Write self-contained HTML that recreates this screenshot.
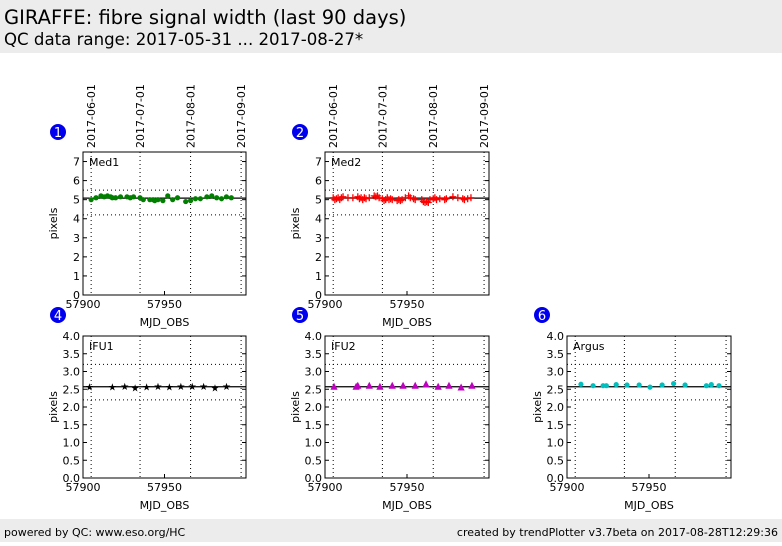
<!DOCTYPE html>
<html><head><meta charset="utf-8"><style>
body{margin:0;background:#fff;width:782px;height:542px;overflow:hidden;font-family:"DejaVu Sans","Liberation Sans",sans-serif}
svg text{font-family:"DejaVu Sans","Liberation Sans",sans-serif}
</style></head><body>
<svg id="chart" width="782" height="542" xmlns="http://www.w3.org/2000/svg">
<rect x="0" y="0" width="782" height="53" fill="#ececec"/>
<text x="4" y="24" font-size="19.5" fill="#000">GIRAFFE: fibre signal width (last 90 days)</text>
<text x="4" y="45" font-size="16.6" fill="#000">QC data range: 2017-05-31 ... 2017-08-27*</text>
<rect x="0" y="519" width="782" height="23" fill="#ececec"/>
<text x="4" y="536" font-size="11">powered by QC: www.eso.org/HC</text>
<text x="778" y="536" font-size="11" text-anchor="end">created by trendPlotter v3.7beta on 2017-08-28T12:29:36</text>
<g id="plots"></g>
</svg>
<script>
const med1X=[57905,57908,57911,57913,57915,57917,57918,57920,57923,57927,57929,57931,57935,57937,57941,57943,57944,57946,57949,57952,57955,57958,57963,57966,57969,57972,57976,57979,57982,57985,57988,57991];
const med1Y=[5.0,5.1,5.2,5.15,5.2,5.15,5.1,5.1,5.15,5.15,5.1,5.15,5.1,5.0,5.0,5.0,4.95,5.0,4.95,5.2,5.0,5.1,4.9,4.95,5.05,5.05,5.15,5.2,5.1,5.05,5.15,5.1];
const med2X=[57905,57906,57907,57908,57909,57910,57911,57914,57917,57920,57921,57922,57923,57924,57925,57927,57930,57931,57932,57933,57935,57936,57937,57938,57939,57940,57941,57944,57945,57946,57947,57949,57951,57952,57954,57955,57959,57960,57961,57962,57963,57964,57966,57967,57968,57970,57973,57974,57978,57981,57984,57985,57987,57989];
const med2Y=[5.1,5.0,5.05,5.1,5.0,5.1,5.15,5.1,5.1,5.15,5.05,5.1,5.0,5.1,5.05,5.1,5.2,5.15,5.2,5.1,5.05,4.95,5.0,5.1,5.0,5.05,5.0,4.95,5.0,4.95,5.0,5.1,5.2,5.1,5.05,5.0,5.0,4.9,4.85,4.9,4.85,5.0,5.05,5.1,5.0,5.05,5.0,5.05,5.15,5.1,5.05,5.0,5.05,5.1];
const ifu1X=[57904,57918,57925.6,57932,57939,57946,57953,57960,57967,57974,57981,57988];
const ifu1Y=[2.57,2.57,2.58,2.53,2.57,2.58,2.57,2.58,2.58,2.58,2.54,2.58];
const ifu2X=[57905.5,57919,57920,57927,57933.5,57941,57947.6,57955,57961.6,57969,57975.6,57983,57989.6];
const ifu2Y=[2.57,2.57,2.6,2.6,2.57,2.6,2.6,2.6,2.64,2.57,2.6,2.55,2.6];
const argX=[57908.5,57915.9,57922,57924,57930,57936.6,57944,57950.6,57958,57965,57972,57985,57988,57992.7];
const argY=[2.64,2.6,2.6,2.6,2.63,2.62,2.62,2.56,2.62,2.66,2.62,2.6,2.63,2.6];
const xTicks=[57900,57950];
const dateMJD=[57905,57935,57966,57997];
const dateLabels=["2017-06-01","2017-07-01","2017-08-01","2017-09-01"];
const topTicks=[0,1,2,3,4,5,6,7];
const botTicks=[0,0.5,1,1.5,2,2.5,3,3.5,4];
const topRef=[5.08,5.5,4.2];
const botRef=[2.57,3.2,2.2];

const NS="http://www.w3.org/2000/svg";
const G=document.getElementById('plots');
function mk(tag,attrs,parent){const e=document.createElementNS(NS,tag);for(const k in attrs)e.setAttribute(k,attrs[k]);(parent||G).appendChild(e);return e;}

function panel(cfg){
  const {x0,y0,w,h,ymax,yTicks,ref,xs,ys,marker,color,label,num,numX,numY,showDates,tickFmt,id}=cfg;
  const g=mk('g',{});
  
  
  const sx=v=>x0+(v-57900)/100*w;
  const sy=v=>y0+h-v/ymax*h;
  dateMJD.forEach((d,i)=>{
    const l=mk('line',{x1:sx(d),x2:sx(d),y1:y0,y2:y0+h,stroke:'#000','stroke-dasharray':'1,3','stroke-width':1},g);
    
    
    if(showDates){
      const t=mk('text',{x:0,y:0,'font-size':11,transform:`translate(${sx(d)+4},${y0-4}) rotate(-90)`},g);
      t.textContent=dateLabels[i];
      
      
    }
  });
  [ref[1],ref[2]].forEach(v=>{
    const l=mk('line',{x1:x0,x2:x0+w,y1:sy(v),y2:sy(v),stroke:'#000','stroke-dasharray':'1,3'},g);
    
    
  });
  const m=mk('line',{x1:x0,x2:x0+w,y1:sy(ref[0]),y2:sy(ref[0]),stroke:'#000','stroke-width':1.3},g);
  
  
  xs.forEach((xv,i)=>{
    const cx=sx(xv),cy=sy(ys[i]);let e;
    if(marker==='dot')e=mk('circle',{cx,cy,r:2.6,fill:color},g);
    else if(marker==='plus')e=mk('path',{d:`M${cx-3.5},${cy}H${cx+3.5}M${cx},${cy-3.5}V${cy+3.5}`,stroke:color,'stroke-width':1.3},g);
    else if(marker==='tri')e=mk('path',{d:`M${cx},${cy-4}L${cx+3.6},${cy+3}L${cx-3.6},${cy+3}Z`,fill:color},g);
    else e=mk('text',{x:cx,y:cy+3.5,'font-size':10,'text-anchor':'middle',fill:color},g),e.textContent='★';
    
    
  });
  const f=mk('rect',{x:x0,y:y0,width:w,height:h,fill:'none',stroke:'#000','stroke-width':1},g);
  
  
  yTicks.forEach(v=>{
    mk('line',{x1:x0,x2:x0+4,y1:sy(v),y2:sy(v),stroke:'#000'},g);
    mk('line',{x1:x0+w-4,x2:x0+w,y1:sy(v),y2:sy(v),stroke:'#000'},g);
    const t=mk('text',{x:x0-3,y:sy(v)+4,'font-size':11,'text-anchor':'end'},g);
    t.textContent=tickFmt(v);
    
    
  });
  xTicks.forEach(v=>{
    mk('line',{x1:sx(v),x2:sx(v),y1:y0+h,y2:y0+h-4,stroke:'#000'},g);
    const t=mk('text',{x:sx(v),y:y0+h+13,'font-size':11,'text-anchor':'middle'},g);
    t.textContent=v;
    
    
  });
  const xl=mk('text',{x:x0+w/2,y:y0+h+31,'font-size':11,'text-anchor':'middle'},g);
  xl.textContent='MJD_OBS';
  
  
  const yl=mk('text',{x:0,y:0,'font-size':11,'text-anchor':'middle',transform:`translate(${x0-26},${y0+h/2}) rotate(-90)`},g);
  yl.textContent='pixels';
  
  
  const lb=mk('text',{x:x0+6,y:y0+14,'font-size':11},g);
  lb.textContent=label;
  
  
  const c=mk('circle',{cx:numX,cy:numY,r:8,fill:'#0000ee'},g);
  
  
  const ct=mk('text',{x:numX,y:numY+5,'font-size':13,'text-anchor':'middle',fill:'#fff'},g);
  ct.textContent=num;
  
  
}
const fI=v=>String(v), fF=v=>v.toFixed(1);
panel({id:'med1',x0:83,y0:152,w:163,h:143,ymax:7.5,yTicks:topTicks,ref:topRef,xs:med1X,ys:med1Y,marker:'dot',color:'#007f00',label:'Med1',num:1,numX:58,numY:132,showDates:true,tickFmt:fI});
panel({id:'med2',x0:325,y0:152,w:164,h:143,ymax:7.5,yTicks:topTicks,ref:topRef,xs:med2X,ys:med2Y,marker:'plus',color:'#ff0000',label:'Med2',num:2,numX:300,numY:132,showDates:true,tickFmt:fI});
panel({id:'ifu1',x0:83,y0:336,w:163,h:142,ymax:4,yTicks:botTicks,ref:botRef,xs:ifu1X,ys:ifu1Y,marker:'star',color:'#000',label:'IFU1',num:4,numX:58,numY:315,showDates:false,tickFmt:fF});
panel({id:'ifu2',x0:325,y0:336,w:164,h:142,ymax:4,yTicks:botTicks,ref:botRef,xs:ifu2X,ys:ifu2Y,marker:'tri',color:'#c000c0',label:'IFU2',num:5,numX:300,numY:315,showDates:false,tickFmt:fF});
panel({id:'argus',x0:567,y0:336,w:164,h:142,ymax:4,yTicks:botTicks,ref:botRef,xs:argX,ys:argY,marker:'dot',color:'#00bfbf',label:'Argus',num:6,numX:542,numY:315,showDates:false,tickFmt:fF});
</script>
</body></html>
